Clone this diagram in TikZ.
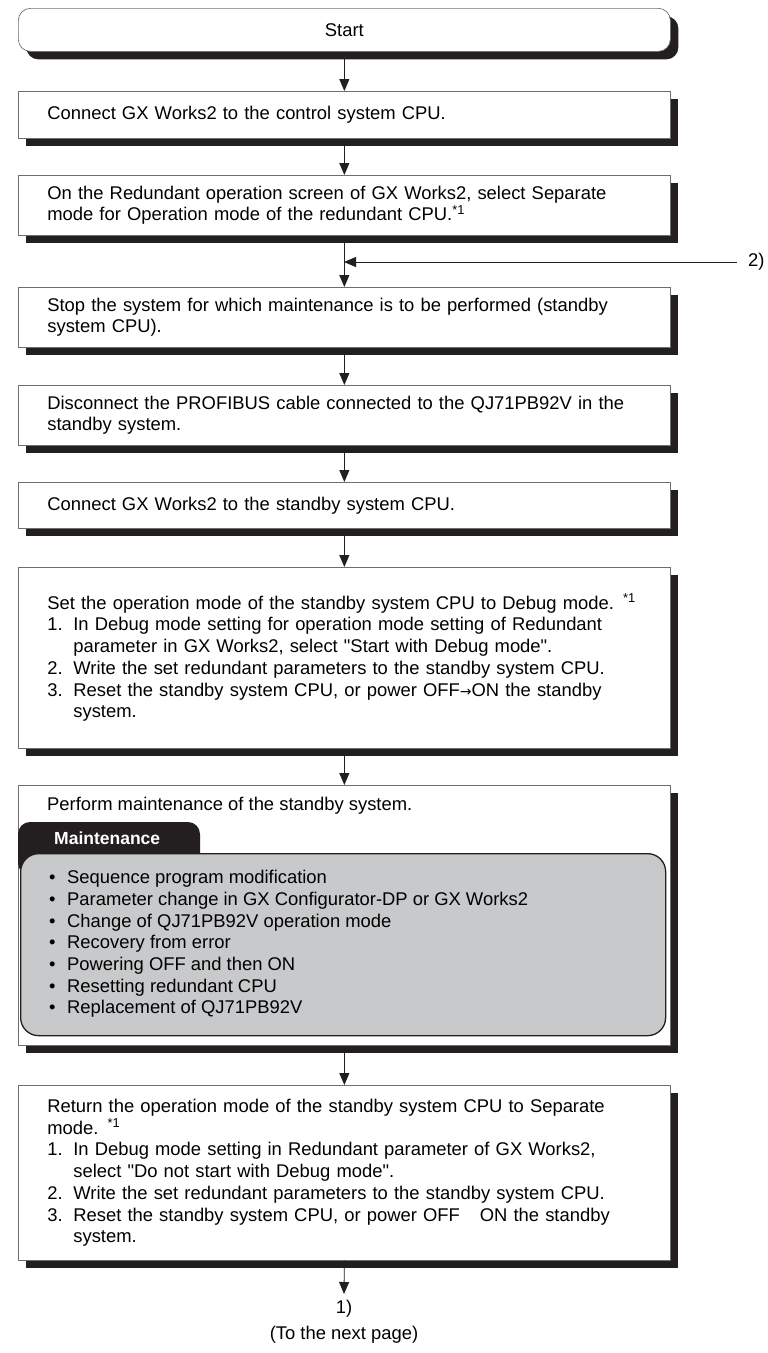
\documentclass[tikz,border=0pt]{standalone}
\usepackage{fontspec}
\newfontfamily\mainf{Liberation Sans}
\newfontfamily\arrfont{DejaVu Sans}
\usetikzlibrary{arrows.meta,shadows}
\definecolor{shad}{RGB}{35,31,32}
\definecolor{grayfill}{RGB}{200,201,203}
\definecolor{edge}{RGB}{110,110,110}
\newcommand\itm[2]{\makebox[26pt][l]{#1}#2}
\newcommand\bul[1]{\makebox[18pt][l]{\textbullet}#1}
\newcommand\hang{\hspace*{26pt}}
\tikzset{
 every node/.style={font=\mainf\fontsize{18.4}{21.7}\selectfont, text=black},
 box/.style={draw=edge, line width=0.7pt, fill=white, anchor=north west,
   minimum width=652pt, text width=594pt, inner xsep=29pt, inner ysep=0pt, align=left,
   drop shadow={shadow xshift=8pt, shadow yshift=-8pt, fill=shad, opacity=1}},
 arr/.style={draw=shad, line width=0.8pt, -{Triangle[length=12pt,width=10pt]}},
}
\begin{document}
\begin{tikzpicture}[x=1pt,y=-1pt]
\useasboundingbox (0,0) rectangle (768,1353);

\node[box, rounded corners=12pt, align=center, minimum height=43pt] (start) at (18,8) {Start};

\node[box, minimum height=47pt] (b1) at (18,91) {Connect GX Works2 to the control system CPU.};

\node[box, minimum height=60pt] (b2) at (18,175) {On the Redundant operation screen of GX Works2, select Separate\\
mode for Operation mode of the redundant CPU.\textsuperscript{*1}};

\node[box, minimum height=60pt] (b3) at (18,287) {Stop the system for which maintenance is to be performed (standby\\
system CPU).};

\node[box, minimum height=60pt] (b4) at (18,385) {Disconnect the PROFIBUS cable connected to the QJ71PB92V in the\\
standby system.};

\node[box, minimum height=46pt] (b5) at (18,482) {Connect GX Works2 to the standby system CPU.};

\node[box, minimum height=181pt] (b6) at (18,567) {Set the operation mode of the standby system CPU to Debug mode. \textsuperscript{*1}\\
\itm{1.}{In Debug mode setting for operation mode setting of Redundant}\\
\hang parameter in GX Works2, select "Start with Debug mode".\\
\itm{2.}{Write the set redundant parameters to the standby system CPU.}\\
\itm{3.}{Reset the standby system CPU, or power OFF{\arrfont\fontsize{14}{14}\selectfont →}ON the standby}\\
\hang system.};

\node[box, minimum height=260pt] (b7) at (18,785) {};
\node[anchor=west, inner sep=0pt] (b7t) at (47,806) {Perform maintenance of the standby system.};
\path[fill=shad, rounded corners=12pt] (18,875) -- (18,822) -- (200,822) -- (200,875) -- cycle;
\node[anchor=west, inner sep=0pt, text=white, font=\mainf\bfseries\fontsize{17.5}{20}\selectfont] (tab) at (54,838) {Maintenance};
\node[draw=shad, line width=1.3pt, fill=grayfill, rounded corners=18pt, anchor=north west,
  minimum width=645pt, minimum height=182pt, inner sep=0pt] (gray) at (20,853) {};
\node[anchor=west, inner sep=0pt, align=left] (blist) at (49,944) {%
\bul{Sequence program modification}\\
\bul{Parameter change in GX Configurator-DP or GX Works2}\\
\bul{Change of QJ71PB92V operation mode}\\
\bul{Recovery from error}\\
\bul{Powering OFF and then ON}\\
\bul{Resetting redundant CPU}\\
\bul{Replacement of QJ71PB92V}};

\node[box, minimum height=175pt] (b8) at (18,1085) {Return the operation mode of the standby system CPU to Separate\\
mode. \textsuperscript{*1}\\
\itm{1.}{In Debug mode setting in Redundant parameter of GX Works2,}\\
\hang select "Do not start with Debug mode".\\
\itm{2.}{Write the set redundant parameters to the standby system CPU.}\\
\itm{3.}{Reset the standby system CPU, or power OFF\hspace{20pt}ON the standby}\\
\hang system.};

\node[inner sep=0pt] (n1) at (344,1309) {1)};
\node[inner sep=0pt] (n1b) at (344,1335) {(To the next page)};
\coordinate (n1top) at (344,1294);

\node[inner sep=0pt, anchor=west] (lbl2) at (748,262) {2)};
\coordinate (j) at (344,262);
\coordinate (fe) at (737,262);

\draw[arr] (start.south) -- (b1.north);
\draw[arr] (b1.south) -- (b2.north);
\draw[arr] (b2.south) -- (b3.north);
\draw[arr] (fe) -- (j);
\draw[arr] (b3.south) -- (b4.north);
\draw[arr] (b4.south) -- (b5.north);
\draw[arr] (b5.south) -- (b6.north);
\draw[arr] (b6.south) -- (b7.north);
\draw[arr] (b7.south) -- (b8.north);
\draw[arr] (b8.south) -- (n1top);
\end{tikzpicture}
\end{document}
